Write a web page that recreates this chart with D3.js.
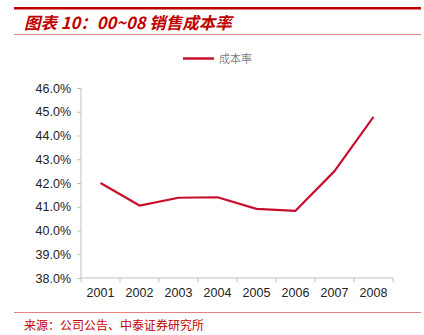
<!DOCTYPE html>
<html>
<head>
<meta charset="utf-8">
<script src="https://cdn.jsdelivr.net/npm/d3@7"></script>
<style>
  html, body { margin: 0; padding: 0; background: #fff; }
  svg { display: block; }
</style>
</head>
<body>
<svg id="chart" width="424" height="335"></svg>
<script>
// Cost-of-sales ratio by year
const years = ["2001", "2002", "2003", "2004", "2005", "2006", "2007", "2008"];
const costRatio = [42.0, 41.05, 41.38, 41.4, 40.91, 40.83, 42.5, 44.78];
const yTicks = [38, 39, 40, 41, 42, 43, 44, 45, 46];

const titleText = "图表 10：00~08 销售成本率";
const legendText = "成本率";
const sourceText = "来源：公司公告、中泰证券研究所";

const svg = d3.select("#chart");
const red = "#c00000";
const lineColor = "#c8102e";
const axisColor = "#bfbfbf";
const cjk = "'Noto Sans CJK SC', sans-serif";

// header rules and title
svg.append("rect").attr("x", 14).attr("y", 7).attr("width", 407).attr("height", 2.5).attr("fill", red);
svg.append("text").attr("x", 24).attr("y", 29)
  .attr("fill", red).attr("font-family", cjk).attr("font-size", 16.5)
  .attr("font-weight", "bold").attr("font-style", "italic")
  .text(titleText);
svg.append("line").attr("x1", 14).attr("x2", 421).attr("y1", 34.5).attr("y2", 34.5)
  .attr("stroke", "#e58080").attr("stroke-width", 1);

// footer
svg.append("line").attr("x1", 14).attr("x2", 421).attr("y1", 312.5).attr("y2", 312.5)
  .attr("stroke", "#e58080").attr("stroke-width", 1);
svg.append("text").attr("x", 24).attr("y", 329.5)
  .attr("fill", red).attr("font-family", cjk).attr("font-size", 12)
  .text(sourceText);

// plot area
const plotLeft = 81, plotRight = 393, plotTop = 88, plotBottom = 278;
const x = d3.scaleBand().domain(years).range([plotLeft, plotRight]);
const y = d3.scaleLinear().domain([38, 46]).range([plotBottom, plotTop]);

const yAxis = svg.append("g").attr("transform", `translate(${plotLeft},0)`)
  .call(d3.axisLeft(y).tickValues(yTicks).tickSize(4).tickPadding(6)
    .tickFormat(d => d.toFixed(1) + "%"));
const xAxis = svg.append("g").attr("transform", `translate(0,${plotBottom})`)
  .call(d3.axisBottom(x).tickSize(0).tickPadding(10));

// category separator ticks on the x axis
svg.append("g").selectAll("line")
  .data(years.map(d => x(d)).concat([plotRight]))
  .join("line")
  .attr("x1", d => d).attr("x2", d => d)
  .attr("y1", plotBottom).attr("y2", plotBottom + 4)
  .attr("stroke", axisColor);

[yAxis, xAxis].forEach(g => {
  g.selectAll(".domain").attr("stroke", axisColor);
  g.selectAll(".tick line").attr("stroke", axisColor);
  g.selectAll("text").attr("fill", "#222")
    .attr("font-family", "'Liberation Sans', Arial, sans-serif").attr("font-size", 12.5);
});
yAxis.select(".domain").attr("d", `M0,${plotTop}V${plotBottom}`);
xAxis.select(".domain").attr("d", `M${plotLeft},0H${plotRight}`);

// series line
const line = d3.line()
  .x((d, i) => x(years[i]) + x.bandwidth() / 2)
  .y(d => y(d));
svg.append("path").datum(costRatio)
  .attr("d", line).attr("fill", "none")
  .attr("stroke", lineColor).attr("stroke-width", 2.2)
  .attr("stroke-linejoin", "round");

// legend
svg.append("line").attr("x1", 183).attr("x2", 214).attr("y1", 58.5).attr("y2", 58.5)
  .attr("stroke", lineColor).attr("stroke-width", 2.5);
svg.append("text").attr("x", 219).attr("y", 62.5)
  .attr("fill", "#444").attr("font-family", cjk).attr("font-size", 11)
  .attr("font-weight", 300)
  .text(legendText);
</script>
</body>
</html>
